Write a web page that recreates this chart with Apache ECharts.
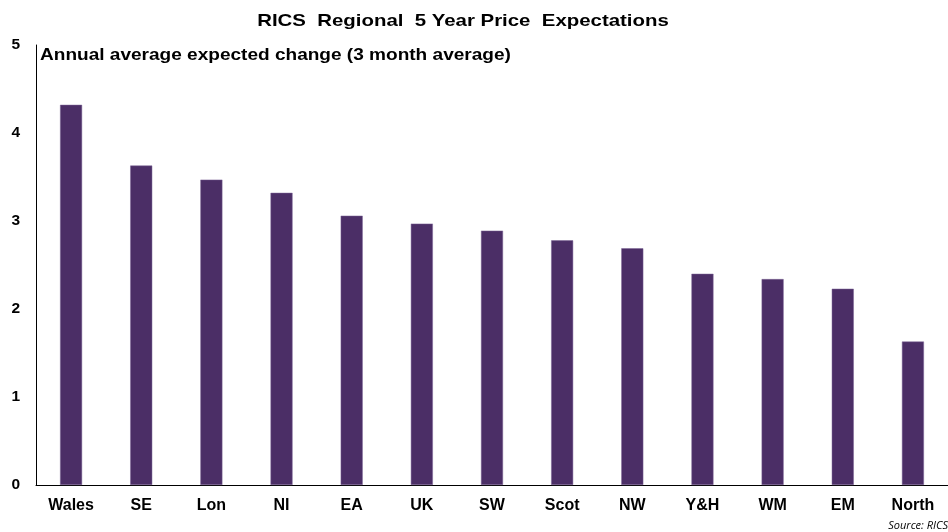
<!DOCTYPE html>
<html><head><meta charset="utf-8">
<script src="https://cdn.jsdelivr.net/npm/echarts@6/dist/echarts.min.js"></script>
<style>html,body{margin:0;padding:0;background:#fff}#c{width:948px;height:532px}</style>
</head><body><div id="c"></div>
<script>
const categories = ['Wales','SE','Lon','NI','EA','UK','SW','Scot','NW','Y&H','WM','EM','North'];
const values = [4.32,3.63,3.47,3.32,3.06,2.97,2.89,2.78,2.69,2.40,2.34,2.23,1.63];
const yTicks = [0,1,2,3,4,5];
const titleText = 'RICS  Regional  5 Year Price  Expectations';
const subtitleText = 'Annual average expected change (3 month average)';
const sourceText = 'Source: RICS';
const chart = echarts.init(document.getElementById('c'));
const F = '"Liberation Sans", Arial, sans-serif';
chart.setOption({
  animation:false,
  graphic:[
    {type:'text',x:463,y:13,scaleX:1.2,style:{text:titleText,textAlign:'center',textVerticalAlign:'top',font:'bold 17px '+F,fill:'#000'}},
    {type:'text',x:40,y:48,scaleX:1.19,style:{text:subtitleText,textAlign:'left',textVerticalAlign:'top',font:'bold 16px '+F,fill:'#000'}},
    {type:'text',x:948,y:520,style:{text:sourceText,textAlign:'right',textVerticalAlign:'top',font:'italic 11px "Open Sans", sans-serif',fill:'#000'}}
  ],
  grid:{left:36,right:-3,top:45,bottom:47,containLabel:false},
  xAxis:{type:'category',data:categories,axisTick:{show:false},
    axisLine:{lineStyle:{color:'#000',width:1}},
    axisLabel:{fontFamily:F,fontSize:16,fontWeight:'bold',color:'#000',margin:13,interval:0}},
  yAxis:{type:'value',min:yTicks[0],max:yTicks[yTicks.length-1],interval:1,
    splitLine:{show:false},axisTick:{show:false},
    axisLine:{show:true,lineStyle:{color:'#000',width:1}},
    axisLabel:{fontFamily:F,fontSize:15.5,fontWeight:'bold',color:'#000',margin:16}},
  series:[{type:'bar',data:values,barWidth:22,itemStyle:{color:'#4B2E66',borderColor:'#7a6394',borderWidth:0.5}}]
});
</script></body></html>
